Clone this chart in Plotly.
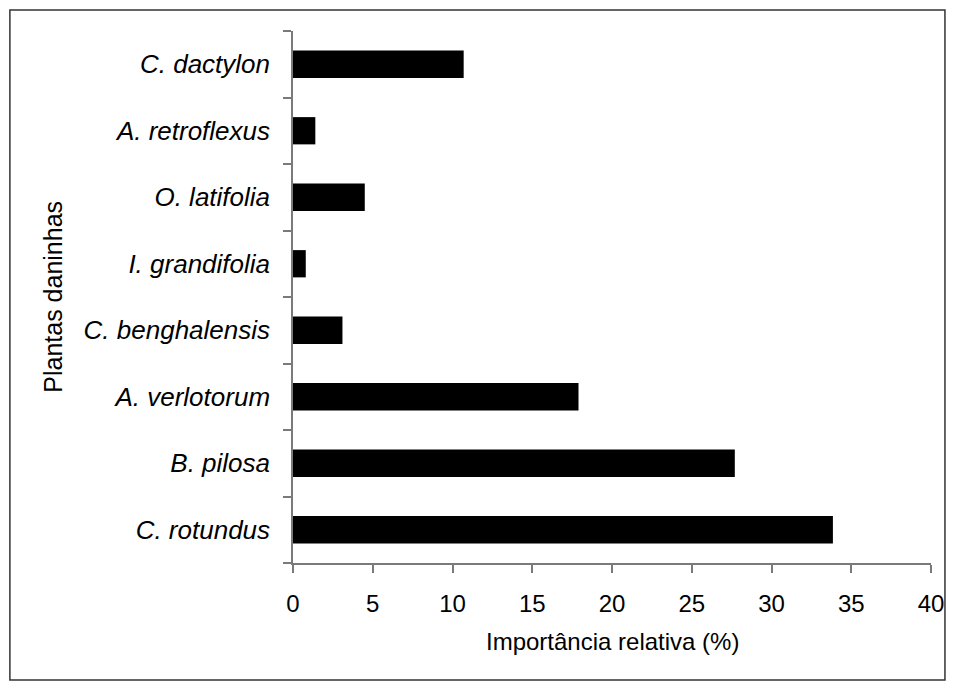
import plotly.graph_objects as go

# weed species, bottom to top as drawn
species = ['C. rotundus', 'B. pilosa', 'A. verlotorum', 'C. benghalensis',
           'I. grandifolia', 'O. latifolia', 'A. retroflexus', 'C. dactylon']
importance = [33.85, 27.7, 17.9, 3.1, 0.8, 4.5, 1.4, 10.7]

x_ticks = [0, 5, 10, 15, 20, 25, 30, 35, 40]

W, H = 956, 688
L, R, T, B = 293, 23, 31, 125
pw, ph = W - L - R, H - T - B

fig = go.Figure()

fig.add_trace(go.Bar(
    x=importance,
    y=species,
    orientation='h',
    marker=dict(color='black', line=dict(width=0)),
    showlegend=False
))

axis_col = '#7a7a7a'

fig.update_layout(
    width=W, height=H,
    margin=dict(l=L, r=R, t=T, b=B),
    paper_bgcolor='white',
    plot_bgcolor='white',
    font=dict(family='Liberation Sans, Arial, sans-serif', size=24, color='black'),
    bargap=0.59,
    xaxis=dict(
        range=[0, 40], tickvals=x_ticks, ticks='outside', ticklen=8,
        tickcolor=axis_col, tickwidth=1.5,
        showline=True, linecolor=axis_col, linewidth=1.5,
        showgrid=False, zeroline=False, ticklabelstandoff=10,
        tickfont=dict(size=24)
    ),
    yaxis=dict(
        categoryorder='array', categoryarray=species,
        range=[-0.5, 7.5], tickson='boundaries', ticks='outside', ticklen=8,
        tickcolor=axis_col, tickwidth=1.5,
        showline=True, linecolor=axis_col, linewidth=1.5,
        showgrid=False, zeroline=False, ticklabelstandoff=16,
        tickfont=dict(size=26, style='italic')
    ),
)

# axis titles
fig.add_annotation(text='Importância relativa (%)', xref='paper', yref='paper',
                   x=0.5, y=-(641 - (T + ph)) / ph, showarrow=False,
                   xanchor='center', yanchor='middle', font=dict(size=24))
fig.add_annotation(text='Plantas daninhas', xref='paper', yref='paper',
                   x=(52 - L) / pw, y=0.5, showarrow=False, textangle=-90,
                   xanchor='center', yanchor='middle', font=dict(size=25))

# outer frame around the whole figure
fig.add_shape(type='rect', xref='paper', yref='paper',
              x0=(9 - L) / pw, x1=(947 - L) / pw,
              y0=-(680 - (T + ph)) / ph, y1=1 + (T - 10) / ph,
              line=dict(color='#333333', width=1.5))

# drop the default page margin so the figure sits at the window's corner
fig.write_html('out.html', config={'displayModeBar': False},
               post_script="document.body.style.margin='0';")
